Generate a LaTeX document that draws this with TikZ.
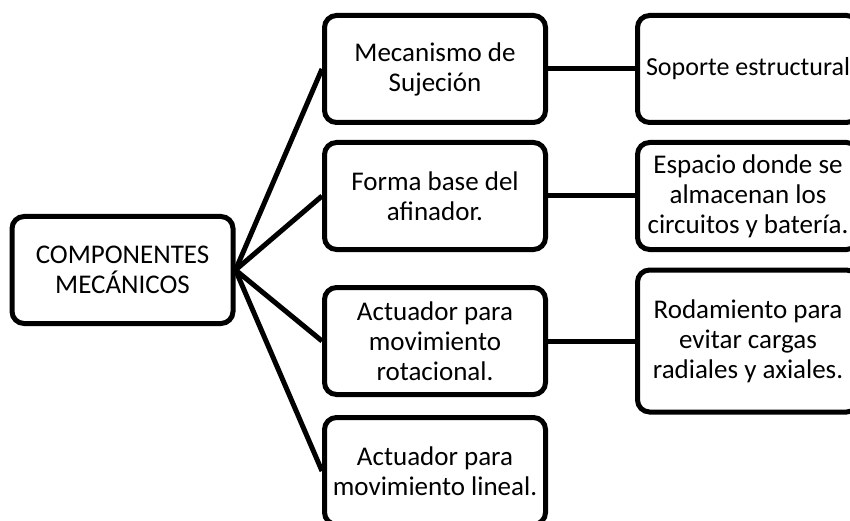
\documentclass[tikz,border=0pt]{standalone}
\usepackage{fontspec}
\setmainfont{Carlito}
\usetikzlibrary{positioning}

\begin{document}
\begin{tikzpicture}
    [x=1pt,y=-1pt,
    part/.style={rectangle,rounded corners=12pt,draw=black,line width=5pt,
    align=center,inner sep=0pt,minimum width=221pt,minimum height=107pt,
    font=\fontsize{27}{30}\selectfont},
    link/.style={line width=5pt},
    node distance=87pt]
    \useasboundingbox (0,0) rectangle (850,521);
    \clip (0,0) rectangle (850,521);
    \node[part] (root) at (122.5,270) {COMPONENTES\\MEC\'ANICOS};
    \node[part] (sujecion) at (435,69) {Mecanismo de\\Sujeci\'on};
    \node[part] (forma) at (435,196) {Forma base del\\afinador.};
    \node[part] (rotacional) at (435,341) {Actuador para\\movimiento\\rotacional.};
    \node[part] (lineal) at (435,471) {Actuador para\\movimiento lineal.};
    \node[part,font=\fontsize{26}{30}\selectfont] (soporte) [right=of sujecion] {Soporte estructural};
    \node[part] (espacio) [right=of forma] {Espacio donde se\\almacenan los\\circuitos y bater\'ia.};
    \node[part,minimum height=142pt] (rodamiento) [right=of rotacional] {Rodamiento para\\evitar cargas\\radiales y axiales.};
    \draw[link] (root.east) -- (sujecion.west);
    \draw[link] (root.east) -- (forma.west);
    \draw[link] (root.east) -- (rotacional.west);
    \draw[link] (root.east) -- (lineal.west);
    \draw[link] (sujecion) -- (soporte);
    \draw[link] (forma) -- (espacio);
    \draw[link] (rotacional) -- (rodamiento);
\end{tikzpicture}
\end{document}
